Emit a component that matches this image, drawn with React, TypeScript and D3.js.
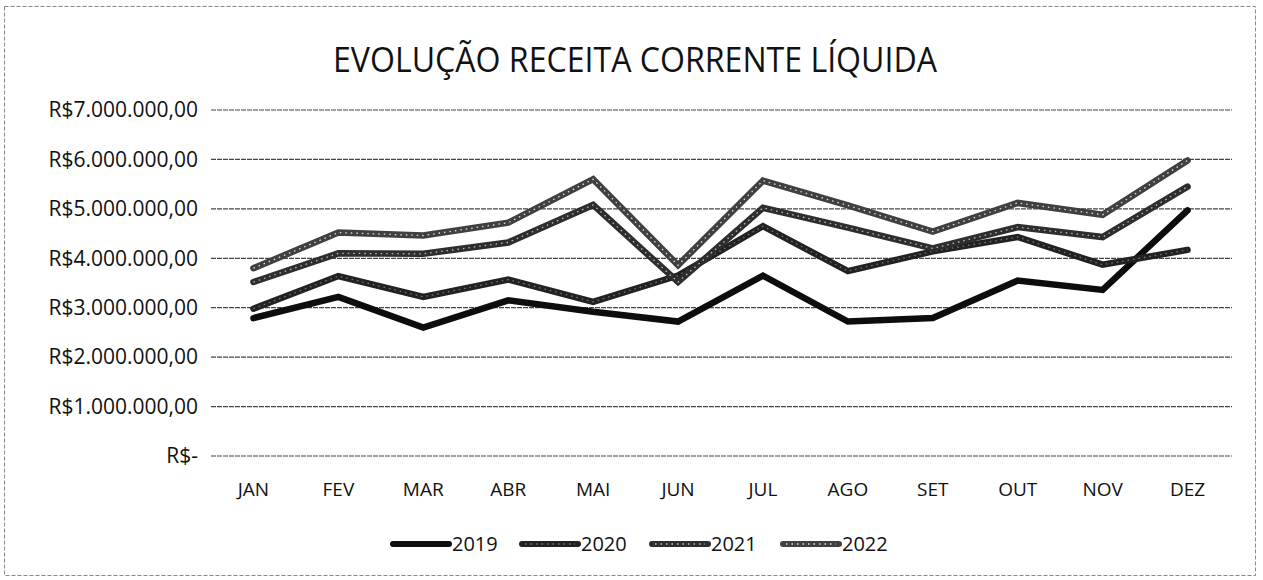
import React, { useEffect, useRef } from "react";
import * as d3 from "d3";

const months = ["JAN", "FEV", "MAR", "ABR", "MAI", "JUN", "JUL", "AGO", "SET", "OUT", "NOV", "DEZ"];
const years = ["2019", "2020", "2021", "2022"];

// valores em milhões de R$
const v2019 = [2.79, 3.22, 2.6, 3.15, 2.92, 2.72, 3.65, 2.72, 2.79, 3.55, 3.36, 4.97];
const v2020 = [2.98, 3.64, 3.22, 3.57, 3.12, 3.65, 4.65, 3.74, 4.14, 4.43, 3.87, 4.17];
const v2021 = [3.52, 4.1, 4.09, 4.32, 5.08, 3.52, 5.02, 4.62, 4.2, 4.63, 4.43, 5.45];
const v2022 = [3.8, 4.52, 4.46, 4.72, 5.6, 3.86, 5.57, 5.07, 4.54, 5.12, 4.88, 5.98];
const yTicks = [0, 1, 2, 3, 4, 5, 6, 7];

const tickLabel = (m: number) => (m === 0 ? "R$-" : `R$${m}.000.000,00`);

function App() {
  const ref = useRef<SVGSVGElement | null>(null);

  useEffect(() => {
    const svg = d3.select(ref.current);
    svg.selectAll("*").remove();

    const x = d3.scalePoint<string>().domain(months).range([211, 1230]).padding(0.5);
    const y = d3.scaleLinear().domain([0, 7]).range([456, 110]);
    const font = "'Open Sans', 'DejaVu Sans', sans-serif";

    svg.append("rect").attr("width", 1263).attr("height", 580).attr("fill", "#fff");
    // borda do gráfico
    svg
      .append("rect")
      .attr("x", 4.5)
      .attr("y", 6.5)
      .attr("width", 1251)
      .attr("height", 569)
      .attr("fill", "none")
      .attr("stroke", "#888")
      .attr("stroke-dasharray", "4 2");

    svg
      .append("text")
      .attr("x", 635)
      .attr("y", 72)
      .attr("text-anchor", "middle")
      .attr("font-family", font)
      .attr("font-size", 35)
      .attr("fill", "#111")
      .attr("textLength", 604)
      .attr("lengthAdjust", "spacingAndGlyphs")
      .text("EVOLUÇÃO RECEITA CORRENTE LÍQUIDA");

    //grid + eixo y
    yTicks.forEach((t) => {
      svg
        .append("line")
        .attr("x1", 211)
        .attr("x2", 1232)
        .attr("y1", y(t))
        .attr("y2", y(t))
        .attr("stroke", "#444")
        .attr("stroke-width", 1.2)
        .attr("stroke-dasharray", "5 1");
      svg
        .append("text")
        .attr("x", 198)
        .attr("y", y(t))
        .attr("dy", "0.35em")
        .attr("text-anchor", "end")
        .attr("font-family", font)
        .attr("font-size", 21)
        .attr("fill", "#111")
        .text(tickLabel(t));
    });

    months.forEach((m) => {
      svg
        .append("text")
        .attr("x", x(m)!)
        .attr("y", 496)
        .attr("text-anchor", "middle")
        .attr("font-family", font)
        .attr("font-size", 19)
        .attr("fill", "#111")
        .text(m);
    });

    const series = [v2019, v2020, v2021, v2022];
    const colors = ["#0d0d0d", "#222", "#2e2e2e", "#404040"];
    const texture = [null, "#777", "#bbb", "#ddd"];

    const line = d3
      .line<number>()
      .x((_, i) => x(months[i])!)
      .y((d) => y(d));

    series.forEach((s, k) => {
      svg
        .append("path")
        .datum(s)
        .attr("d", line)
        .attr("fill", "none")
        .attr("stroke", colors[k])
        .attr("stroke-width", 6.5)
        .attr("stroke-linejoin", "miter")
        .attr("stroke-linecap", "round");
      if (texture[k]) {
        svg
          .append("path")
          .datum(s)
          .attr("d", line)
          .attr("fill", "none")
          .attr("stroke", texture[k]!)
          .attr("stroke-width", 1.3)
          .attr("stroke-dasharray", "1.5 4");
      }
    });

    // legenda
    const legX = [393, 522, 652, 783];
    years.forEach((yr, k) => {
      const g = svg.append("g");
      g.append("line")
        .attr("x1", legX[k])
        .attr("x2", legX[k] + 56)
        .attr("y1", 544)
        .attr("y2", 544)
        .attr("stroke", colors[k])
        .attr("stroke-width", 6)
        .attr("stroke-linecap", "round");
      if (texture[k]) {
        g.append("line")
          .attr("x1", legX[k] + 3)
          .attr("x2", legX[k] + 53)
          .attr("y1", 544)
          .attr("y2", 544)
          .attr("stroke", texture[k]!)
          .attr("stroke-width", 1.3)
          .attr("stroke-dasharray", "1.5 4");
      }
      g.append("text")
        .attr("x", legX[k] + 59)
        .attr("y", 544)
        .attr("dy", "0.36em")
        .attr("font-family", font)
        .attr("font-size", 20)
        .attr("fill", "#111")
        .text(yr);
    });

    return () => {
      svg.selectAll("*").remove();
    };
  }, []);

  return (
    <svg
      ref={ref}
      width={1263}
      height={580}
      style={{ position: "absolute", left: 0, top: 0 }}
    />
  );
}

export default App;
